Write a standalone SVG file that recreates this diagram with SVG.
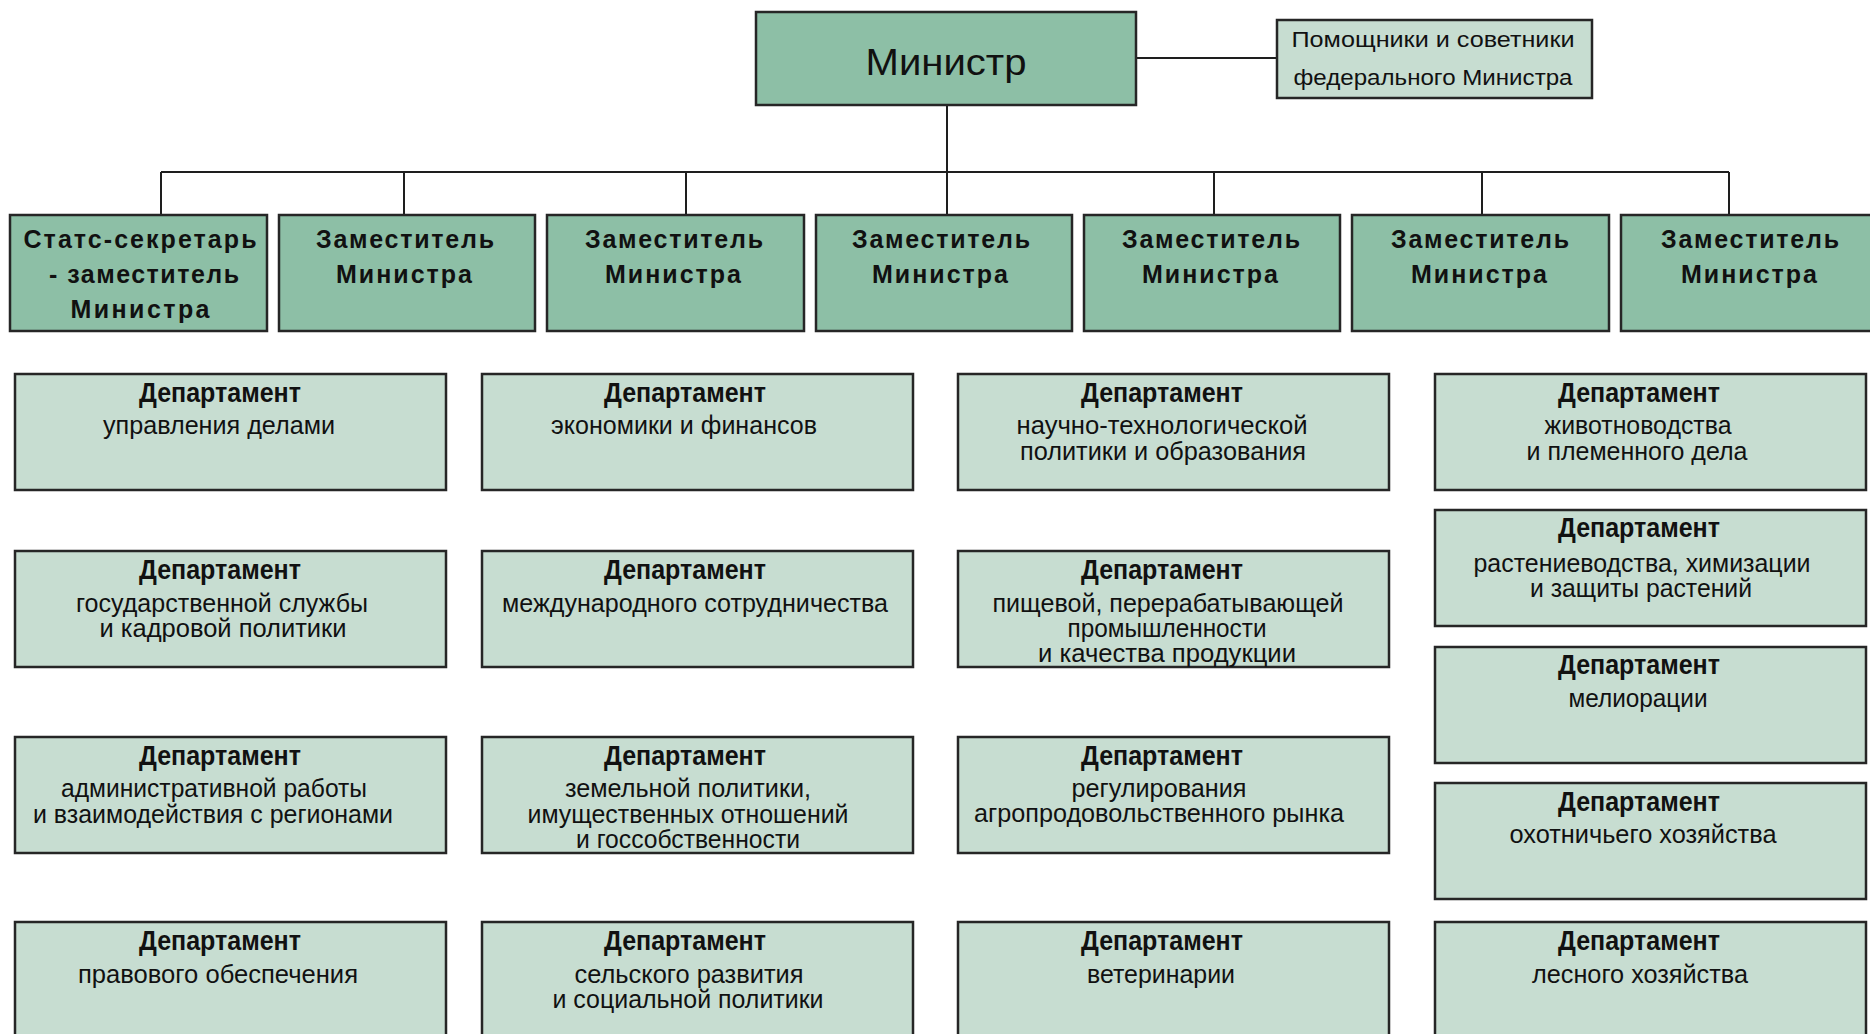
<svg xmlns="http://www.w3.org/2000/svg" width="1870" height="1034" viewBox="0 0 1870 1034">
<style>
.dark{fill:#8dbfa6;stroke:#262626;stroke-width:2.5}
.light{fill:#c7ddd1;stroke:#262626;stroke-width:2.5}
.conn{stroke:#1e1e1e;stroke-width:2;fill:none}
text{font-family:"Liberation Sans",Arial,sans-serif;fill:#111;text-anchor:middle}
.min{font-size:37px}
.help{font-size:22px}
.dep{font-size:25px;font-weight:bold}
.t{font-size:27px;font-weight:bold}
.s{font-size:26px}
</style>
<rect width="1870" height="1034" fill="#ffffff"/>
<g id="connectors">
<line class="conn" x1="1136" y1="58" x2="1277" y2="58"/>
<line class="conn" x1="947" y1="105" x2="947" y2="172"/>
<line class="conn" x1="161" y1="172" x2="1729" y2="172"/>
<line class="conn" x1="161" y1="172" x2="161" y2="215"/>
<line class="conn" x1="404" y1="172" x2="404" y2="215"/>
<line class="conn" x1="686" y1="172" x2="686" y2="215"/>
<line class="conn" x1="947" y1="172" x2="947" y2="215"/>
<line class="conn" x1="1214" y1="172" x2="1214" y2="215"/>
<line class="conn" x1="1482" y1="172" x2="1482" y2="215"/>
<line class="conn" x1="1729" y1="172" x2="1729" y2="215"/>
</g>
<g id="minister">
<rect class="dark" x="756" y="12" width="380" height="93"/>
<text class="min" x="946" y="75" textLength="161" lengthAdjust="spacingAndGlyphs">Министр</text>
</g>
<g id="helpers">
<rect class="light" x="1277" y="20" width="315" height="78"/>
<text class="help" x="1433" y="47" textLength="283" lengthAdjust="spacingAndGlyphs">Помощники и советники</text>
<text class="help" x="1433" y="85" textLength="279" lengthAdjust="spacingAndGlyphs">федерального Министра</text>
</g>
<g id="deputy1">
<rect class="dark" x="10" y="215" width="257" height="116"/>
<text class="dep" x="140" y="248" textLength="233" lengthAdjust="spacing">Статс-секретарь</text>
<text class="dep" x="144" y="283" textLength="190" lengthAdjust="spacing">- заместитель</text>
<text class="dep" x="140" y="318" textLength="139" lengthAdjust="spacing">Министра</text>
</g>
<g id="deputy2">
<rect class="dark" x="279" y="215" width="256" height="116"/>
<text class="dep" x="405" y="248" textLength="178" lengthAdjust="spacing">Заместитель</text>
<text class="dep" x="404" y="283" textLength="136" lengthAdjust="spacing">Министра</text>
</g>
<g id="deputy3">
<rect class="dark" x="547" y="215" width="257" height="116"/>
<text class="dep" x="674" y="248" textLength="178" lengthAdjust="spacing">Заместитель</text>
<text class="dep" x="673" y="283" textLength="136" lengthAdjust="spacing">Министра</text>
</g>
<g id="deputy4">
<rect class="dark" x="816" y="215" width="256" height="116"/>
<text class="dep" x="941" y="248" textLength="178" lengthAdjust="spacing">Заместитель</text>
<text class="dep" x="940" y="283" textLength="136" lengthAdjust="spacing">Министра</text>
</g>
<g id="deputy5">
<rect class="dark" x="1084" y="215" width="256" height="116"/>
<text class="dep" x="1211" y="248" textLength="178" lengthAdjust="spacing">Заместитель</text>
<text class="dep" x="1210" y="283" textLength="136" lengthAdjust="spacing">Министра</text>
</g>
<g id="deputy6">
<rect class="dark" x="1352" y="215" width="257" height="116"/>
<text class="dep" x="1480" y="248" textLength="178" lengthAdjust="spacing">Заместитель</text>
<text class="dep" x="1479" y="283" textLength="136" lengthAdjust="spacing">Министра</text>
</g>
<g id="deputy7">
<rect class="dark" x="1621" y="215" width="260" height="116"/>
<text class="dep" x="1750" y="248" textLength="178" lengthAdjust="spacing">Заместитель</text>
<text class="dep" x="1749" y="283" textLength="136" lengthAdjust="spacing">Министра</text>
</g>

<g id="dep-c1r1">
<rect class="light" x="15" y="374" width="431" height="116"/>
<text class="t" x="220" y="402" textLength="162" lengthAdjust="spacingAndGlyphs">Департамент</text>
<text class="s" x="219" y="434" textLength="232" lengthAdjust="spacingAndGlyphs">управления делами</text>
</g>
<g id="dep-c1r2">
<rect class="light" x="15" y="551" width="431" height="116"/>
<text class="t" x="220" y="579" textLength="162" lengthAdjust="spacingAndGlyphs">Департамент</text>
<text class="s" x="222" y="612" textLength="292" lengthAdjust="spacingAndGlyphs">государственной службы</text>
<text class="s" x="223" y="637" textLength="247" lengthAdjust="spacingAndGlyphs">и кадровой политики</text>
</g>
<g id="dep-c1r3">
<rect class="light" x="15" y="737" width="431" height="116"/>
<text class="t" x="220" y="765" textLength="162" lengthAdjust="spacingAndGlyphs">Департамент</text>
<text class="s" x="214" y="797" textLength="306" lengthAdjust="spacingAndGlyphs">административной работы</text>
<text class="s" x="213" y="823" textLength="360" lengthAdjust="spacingAndGlyphs">и взаимодействия с регионами</text>
</g>
<g id="dep-c1r4">
<rect class="light" x="15" y="922" width="431" height="130"/>
<text class="t" x="220" y="950" textLength="162" lengthAdjust="spacingAndGlyphs">Департамент</text>
<text class="s" x="218" y="983" textLength="280" lengthAdjust="spacingAndGlyphs">правового обеспечения</text>
</g>

<g id="dep-c2r1">
<rect class="light" x="482" y="374" width="431" height="116"/>
<text class="t" x="685" y="402" textLength="162" lengthAdjust="spacingAndGlyphs">Департамент</text>
<text class="s" x="684" y="434" textLength="266" lengthAdjust="spacingAndGlyphs">экономики и финансов</text>
</g>
<g id="dep-c2r2">
<rect class="light" x="482" y="551" width="431" height="116"/>
<text class="t" x="685" y="579" textLength="162" lengthAdjust="spacingAndGlyphs">Департамент</text>
<text class="s" x="695" y="612" textLength="386" lengthAdjust="spacingAndGlyphs">международного сотрудничества</text>
</g>
<g id="dep-c2r3">
<rect class="light" x="482" y="737" width="431" height="116"/>
<text class="t" x="685" y="765" textLength="162" lengthAdjust="spacingAndGlyphs">Департамент</text>
<text class="s" x="688" y="797" textLength="246" lengthAdjust="spacingAndGlyphs">земельной политики,</text>
<text class="s" x="688" y="823" textLength="321" lengthAdjust="spacingAndGlyphs">имущественных отношений</text>
<text class="s" x="688" y="848" textLength="224" lengthAdjust="spacingAndGlyphs">и госсобственности</text>
</g>
<g id="dep-c2r4">
<rect class="light" x="482" y="922" width="431" height="130"/>
<text class="t" x="685" y="950" textLength="162" lengthAdjust="spacingAndGlyphs">Департамент</text>
<text class="s" x="689" y="983" textLength="229" lengthAdjust="spacingAndGlyphs">сельского развития</text>
<text class="s" x="688" y="1008" textLength="271" lengthAdjust="spacingAndGlyphs">и социальной политики</text>
</g>

<g id="dep-c3r1">
<rect class="light" x="958" y="374" width="431" height="116"/>
<text class="t" x="1162" y="402" textLength="162" lengthAdjust="spacingAndGlyphs">Департамент</text>
<text class="s" x="1162" y="434" textLength="291" lengthAdjust="spacingAndGlyphs">научно-технологической</text>
<text class="s" x="1163" y="460" textLength="286" lengthAdjust="spacingAndGlyphs">политики и образования</text>
</g>
<g id="dep-c3r2">
<rect class="light" x="958" y="551" width="431" height="116"/>
<text class="t" x="1162" y="579" textLength="162" lengthAdjust="spacingAndGlyphs">Департамент</text>
<text class="s" x="1168" y="612" textLength="351" lengthAdjust="spacingAndGlyphs">пищевой, перерабатывающей</text>
<text class="s" x="1167" y="637" textLength="199" lengthAdjust="spacingAndGlyphs">промышленности</text>
<text class="s" x="1167" y="662" textLength="258" lengthAdjust="spacingAndGlyphs">и качества продукции</text>
</g>
<g id="dep-c3r3">
<rect class="light" x="958" y="737" width="431" height="116"/>
<text class="t" x="1162" y="765" textLength="162" lengthAdjust="spacingAndGlyphs">Департамент</text>
<text class="s" x="1159" y="797" textLength="175" lengthAdjust="spacingAndGlyphs">регулирования</text>
<text class="s" x="1159" y="822" textLength="370" lengthAdjust="spacingAndGlyphs">агропродовольственного рынка</text>
</g>
<g id="dep-c3r4">
<rect class="light" x="958" y="922" width="431" height="130"/>
<text class="t" x="1162" y="950" textLength="162" lengthAdjust="spacingAndGlyphs">Департамент</text>
<text class="s" x="1161" y="983" textLength="148" lengthAdjust="spacingAndGlyphs">ветеринарии</text>
</g>

<g id="dep-c4r1">
<rect class="light" x="1435" y="374" width="431" height="116"/>
<text class="t" x="1639" y="402" textLength="162" lengthAdjust="spacingAndGlyphs">Департамент</text>
<text class="s" x="1638" y="434" textLength="187" lengthAdjust="spacingAndGlyphs">животноводства</text>
<text class="s" x="1637" y="460" textLength="221" lengthAdjust="spacingAndGlyphs">и племенного дела</text>
</g>
<g id="dep-c4r2">
<rect class="light" x="1435" y="510" width="431" height="116"/>
<text class="t" x="1639" y="537" textLength="162" lengthAdjust="spacingAndGlyphs">Департамент</text>
<text class="s" x="1642" y="572" textLength="337" lengthAdjust="spacingAndGlyphs">растениеводства, химизации</text>
<text class="s" x="1641" y="597" textLength="222" lengthAdjust="spacingAndGlyphs">и защиты растений</text>
</g>
<g id="dep-c4r3">
<rect class="light" x="1435" y="647" width="431" height="116"/>
<text class="t" x="1639" y="674" textLength="162" lengthAdjust="spacingAndGlyphs">Департамент</text>
<text class="s" x="1638" y="707" textLength="139" lengthAdjust="spacingAndGlyphs">мелиорации</text>
</g>
<g id="dep-c4r4">
<rect class="light" x="1435" y="783" width="431" height="116"/>
<text class="t" x="1639" y="811" textLength="162" lengthAdjust="spacingAndGlyphs">Департамент</text>
<text class="s" x="1643" y="843" textLength="267" lengthAdjust="spacingAndGlyphs">охотничьего хозяйства</text>
</g>
<g id="dep-c4r5">
<rect class="light" x="1435" y="922" width="431" height="130"/>
<text class="t" x="1639" y="950" textLength="162" lengthAdjust="spacingAndGlyphs">Департамент</text>
<text class="s" x="1640" y="983" textLength="216" lengthAdjust="spacingAndGlyphs">лесного хозяйства</text>
</g>
</svg>
